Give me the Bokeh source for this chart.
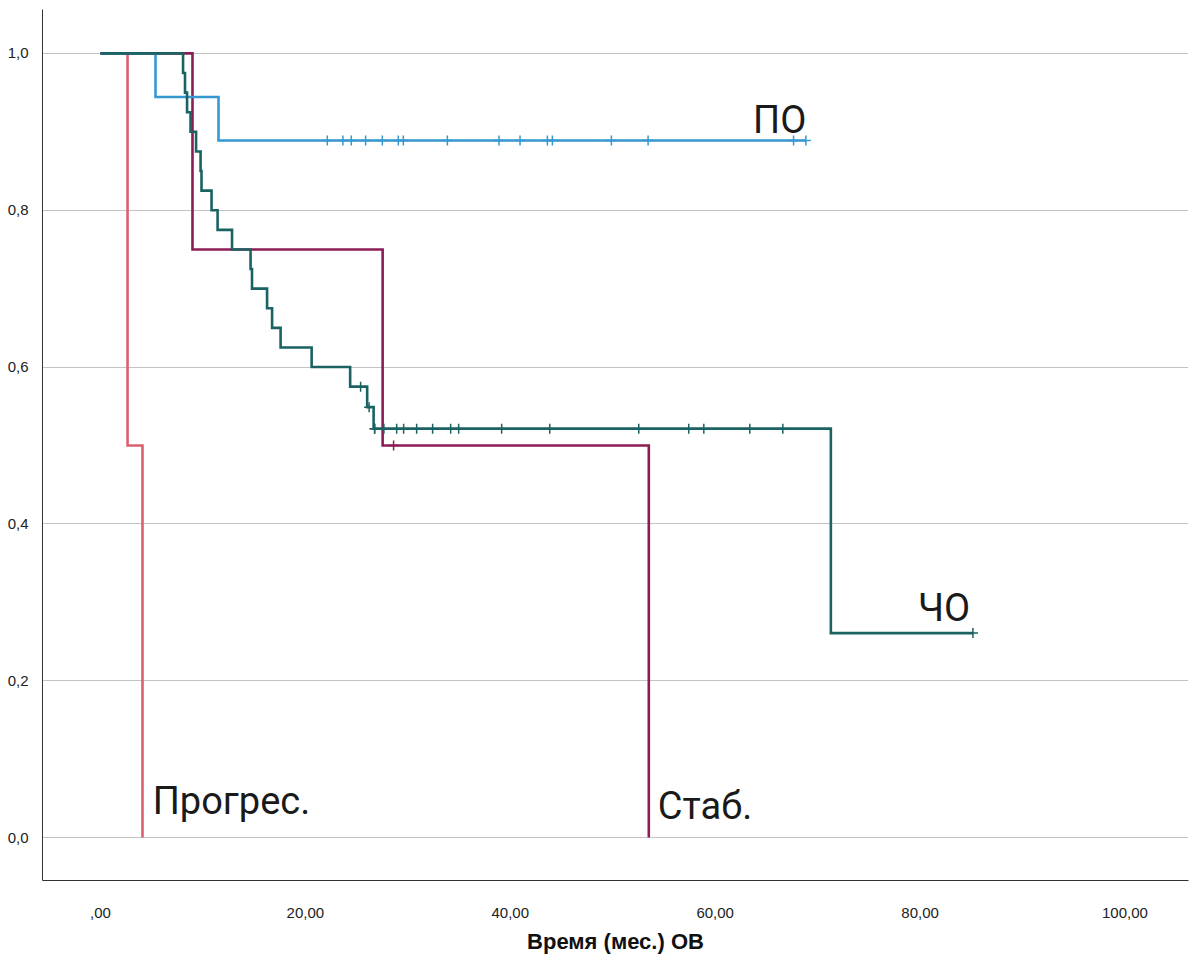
from bokeh.plotting import figure
from bokeh.models import Range1d, Label, CustomJSTickFormatter, FixedTicker
from bokeh.embed import file_html
from bokeh.resources import INLINE

# Survival data per response group (months): event times and censored times
po_events = [5.37, 11.52]
po_censored = [22.14, 23.66, 24.48, 25.88, 27.51, 29.07, 29.56, 33.86, 38.90,
               40.95, 43.62, 44.11, 49.87, 53.45, 67.65, 68.85]

cho_events = [8.06, 8.25, 8.45, 8.79, 9.33, 9.77, 9.86, 10.84, 11.43, 12.84,
              14.65, 14.79, 16.26, 16.75, 17.58, 20.61, 24.37, 26.03, 26.66, 71.29]
cho_censored = [25.39, 26.22, 26.76, 26.76, 27.64, 27.64, 28.91, 29.59, 30.86,
                32.42, 34.18, 34.96, 39.16, 43.85, 52.54, 57.42, 58.89, 63.38,
                66.60, 85.16]

stab_events = [8.98, 27.54, 53.52]
stab_censored = [28.61]

prog_events = [2.64, 4.10]
prog_censored = []

x_ticks = [0, 20, 40, 60, 80, 100]
y_ticks = [0.0, 0.2, 0.4, 0.6, 0.8, 1.0]


def kaplan_meier(events, censored):
    """Return step-line coordinates and censor-mark coordinates."""
    obs = [(t, 0) for t in events] + [(t, 1) for t in censored]
    obs.sort()  # events before censorings at tied times
    at_risk = len(obs)
    s = 1.0
    xs, ys = [0.0], [1.0]
    cx, cy = [], []
    for t, is_cens in obs:
        if is_cens:
            cx.append(t)
            cy.append(s)
        else:
            xs.append(t)
            ys.append(s)
            s *= (at_risk - 1) / at_risk
            xs.append(t)
            ys.append(s)
        at_risk -= 1
    last = obs[-1][0]
    if xs[-1] < last:
        xs.append(last)
        ys.append(s)
    return xs, ys, cx, cy


p = figure(width=1190, height=958, output_backend="svg", toolbar_location=None,
           x_range=Range1d(-5.66, 106.2), y_range=Range1d(-0.0548, 1.056),
           min_border_left=42, min_border_right=2, min_border_top=9,
           min_border_bottom=78)
p.outline_line_color = None
p.background_fill_color = "white"
p.border_fill_color = "white"

p.xgrid.visible = False
p.ygrid.grid_line_color = "#c4c4c4"
p.ygrid.grid_line_width = 1

p.xaxis.ticker = FixedTicker(ticks=x_ticks)
p.yaxis.ticker = FixedTicker(ticks=y_ticks)
p.xaxis.formatter = CustomJSTickFormatter(code="""
    var s = tick.toFixed(2).replace('.', ',');
    return s.startsWith('0,') ? s.slice(1) : s;
""")
p.yaxis.formatter = CustomJSTickFormatter(code="return tick.toFixed(1).replace('.', ',');")

for ax in (p.xaxis, p.yaxis):
    ax.axis_line_color = "#333333"
    ax.axis_line_width = 1
    ax.major_tick_line_color = None
    ax.minor_tick_line_color = None
    ax.major_label_text_font = "Liberation Sans"
    ax.major_label_text_font_size = "15px"
    ax.major_label_text_color = "#222222"

p.yaxis.major_label_standoff = 8
p.xaxis.major_label_standoff = 21
p.xaxis.axis_label = "Время (мес.) ОВ"
p.xaxis.axis_label_text_font = "Liberation Sans"
p.xaxis.axis_label_text_font_style = "bold"
p.xaxis.axis_label_text_font_size = "22px"
p.xaxis.axis_label_text_color = "#111111"
p.xaxis.axis_label_standoff = 8

series = [
    (prog_events, prog_censored, "#DB6070"),
    (stab_events, stab_censored, "#8C1C54"),
    (po_events, po_censored, "#3598D0"),
    (cho_events, cho_censored, "#1B6262"),
]

for ev, ce, color in series:
    xs, ys, cx, cy = kaplan_meier(ev, ce)
    p.line(xs, ys, line_color=color, line_width=2.6, line_join="miter")
    if cx:
        p.scatter(cx, cy, marker="cross", size=10, line_color=color, line_width=1.5)

# Group labels
labels = [
    ("ПО", 63.7, 0.915),
    ("ЧО", 79.8, 0.293),
    ("Прогрес.", 5.1, 0.046),
    ("Стаб.", 54.4, 0.040),
]
for text, lx, ly in labels:
    p.add_layout(Label(x=lx, y=ly, text=text, text_font="Roboto",
                       text_font_size="38px", text_color="#1a1a1a",
                       text_baseline="alphabetic", text_align="left"))

open("out.html", "w").write(file_html(p, INLINE))
